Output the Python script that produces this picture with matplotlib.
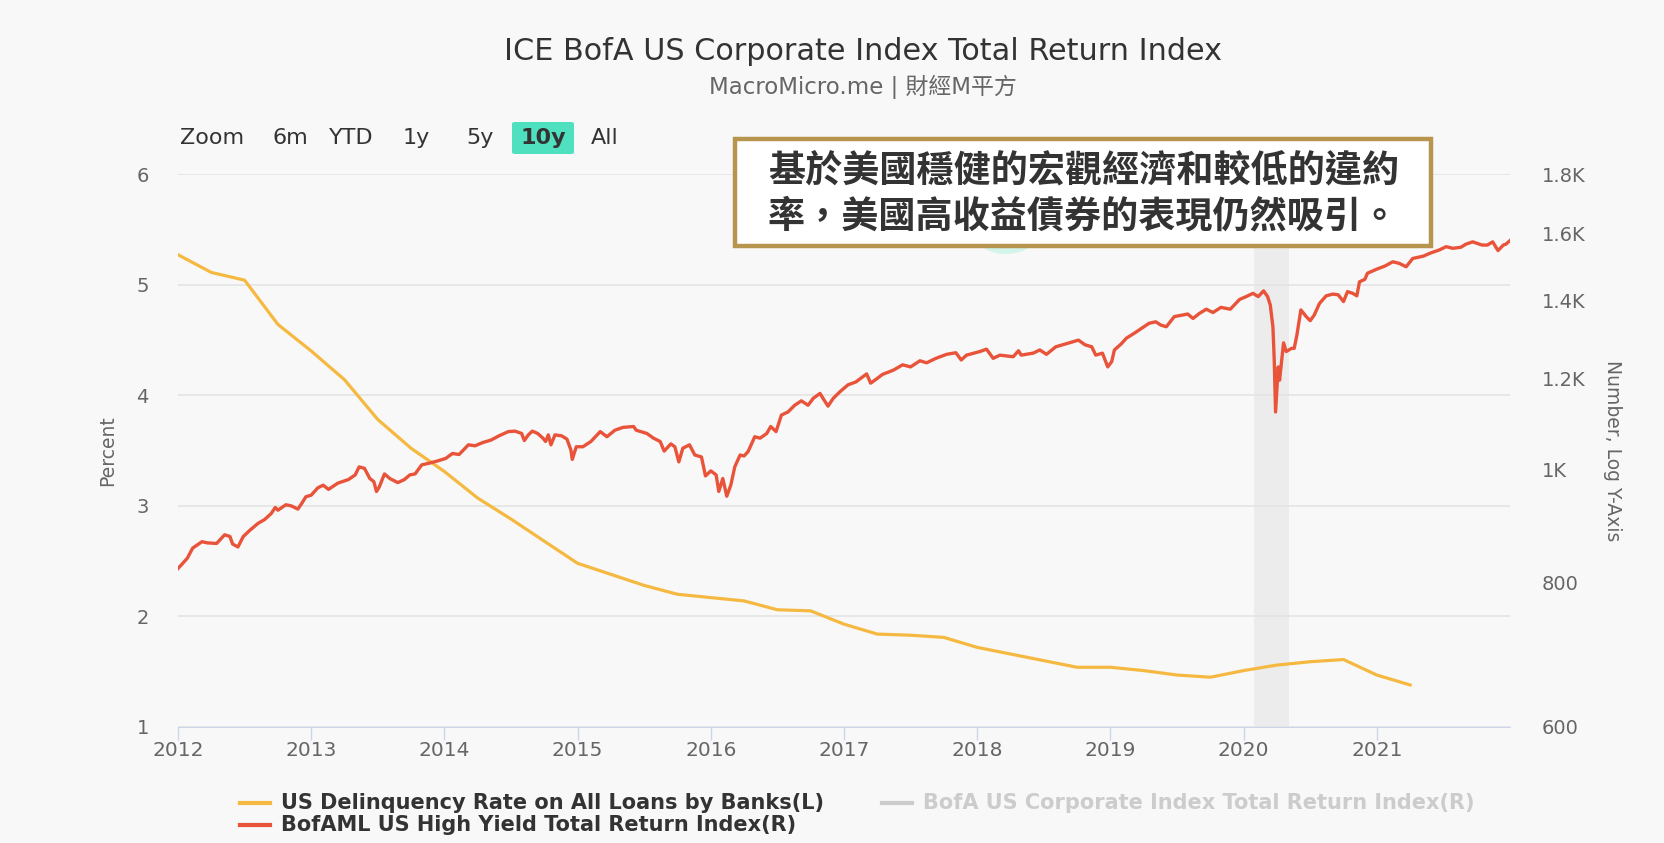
import numpy as np
import matplotlib
matplotlib.use("Agg")
import matplotlib.pyplot as plt
from matplotlib.patches import Rectangle, Ellipse, FancyBboxPatch

plt.rcParams['font.family'] = ['DejaVu Sans', 'Noto Sans CJK TC']

# ==========================================
# DATA
# ==========================================
# US delinquency rate on all loans, quarterly 2012Q1 .. 2021Q2 (percent)
dq_start = 2012.0
dq_rate = [5.27, 5.11, 5.04, 4.64, 4.40, 4.14, 3.78, 3.52, 3.31, 3.07,
           2.88, 2.68, 2.48, 2.38, 2.28, 2.20, 2.17, 2.14, 2.06, 2.05,
           1.93, 1.84, 1.83, 1.81, 1.72, 1.66, 1.60, 1.54, 1.54, 1.51,
           1.47, 1.45, 1.51, 1.56, 1.59, 1.61, 1.47, 1.38]

# BofAML US High Yield total return index (decimal year, level)
hy_t = [2012.00, 2012.07, 2012.11, 2012.18, 2012.22, 2012.29, 2012.35, 2012.39, 2012.41, 2012.45,
        2012.49, 2012.54, 2012.60, 2012.65, 2012.70, 2012.73, 2012.75, 2012.81, 2012.85, 2012.90,
        2012.93, 2012.96, 2013.00, 2013.05, 2013.09, 2013.13, 2013.20, 2013.28, 2013.33, 2013.36,
        2013.40, 2013.44, 2013.47, 2013.49, 2013.51, 2013.55, 2013.59, 2013.65, 2013.70, 2013.74,
        2013.78, 2013.83, 2013.88, 2013.95, 2014.01, 2014.06, 2014.11, 2014.18, 2014.23, 2014.29,
        2014.35, 2014.41, 2014.48, 2014.53, 2014.58, 2014.60, 2014.63, 2014.66, 2014.70, 2014.74,
        2014.76, 2014.78, 2014.80, 2014.83, 2014.88, 2014.92, 2014.95, 2014.96, 2014.99, 2015.04,
        2015.10, 2015.17, 2015.22, 2015.28, 2015.34, 2015.42, 2015.44, 2015.52, 2015.57, 2015.62,
        2015.65, 2015.70, 2015.73, 2015.76, 2015.79, 2015.84, 2015.88, 2015.93, 2015.96, 2016.00,
        2016.04, 2016.06, 2016.09, 2016.12, 2016.15, 2016.18, 2016.22, 2016.25, 2016.28, 2016.33,
        2016.37, 2016.42, 2016.45, 2016.49, 2016.53, 2016.58, 2016.63, 2016.68, 2016.73, 2016.77,
        2016.82, 2016.85, 2016.88, 2016.92, 2016.97, 2017.03, 2017.09, 2017.17, 2017.20, 2017.24,
        2017.29, 2017.37, 2017.44, 2017.50, 2017.57, 2017.62, 2017.69, 2017.77, 2017.84, 2017.88,
        2017.92, 2018.02, 2018.07, 2018.12, 2018.17, 2018.27, 2018.31, 2018.33, 2018.42, 2018.47,
        2018.52, 2018.59, 2018.69, 2018.76, 2018.81, 2018.86, 2018.89, 2018.94, 2018.98, 2019.01,
        2019.03, 2019.08, 2019.12, 2019.18, 2019.24, 2019.29, 2019.34, 2019.38, 2019.42, 2019.48,
        2019.54, 2019.58, 2019.62, 2019.67, 2019.72, 2019.77, 2019.83, 2019.90, 2019.97, 2020.02,
        2020.07, 2020.11, 2020.15, 2020.18, 2020.20, 2020.22, 2020.23, 2020.24, 2020.26, 2020.27,
        2020.30, 2020.32, 2020.36, 2020.38, 2020.40, 2020.43, 2020.47, 2020.50, 2020.53, 2020.57,
        2020.62, 2020.67, 2020.71, 2020.75, 2020.78, 2020.82, 2020.85, 2020.87, 2020.91, 2020.93,
        2021.00, 2021.06, 2021.12, 2021.17, 2021.22, 2021.27, 2021.35, 2021.40, 2021.47, 2021.52,
        2021.57, 2021.63, 2021.67, 2021.72, 2021.79, 2021.83, 2021.87, 2021.91, 2021.95, 2021.97,
        2022.00]
hy_val = [822, 839, 856, 867, 865, 864, 879, 876, 863, 858,
          876, 887, 899, 906, 917, 928, 923, 933, 931, 925,
          936, 948, 951, 965, 970, 962, 974, 981, 990, 1006,
          1003, 983, 977, 958, 966, 992, 983, 975, 981, 990,
          992, 1010, 1013, 1018, 1023, 1033, 1031, 1051, 1049, 1056,
          1061, 1070, 1079, 1080, 1075, 1060, 1072, 1080, 1075, 1065,
          1058, 1072, 1051, 1072, 1070, 1063, 1040, 1021, 1047, 1047,
          1058, 1079, 1068, 1082, 1088, 1090, 1082, 1075, 1065, 1058,
          1038, 1053, 1047, 1016, 1044, 1051, 1030, 1026, 988, 998,
          990, 958, 983, 949, 970, 1006, 1030, 1028, 1037, 1068,
          1065, 1075, 1090, 1079, 1115, 1122, 1137, 1147, 1137, 1153,
          1164, 1149, 1135, 1153, 1168, 1184, 1191, 1210, 1188, 1197,
          1209, 1219, 1232, 1227, 1242, 1237, 1248, 1258, 1262, 1244,
          1256, 1265, 1271, 1248, 1256, 1252, 1267, 1256, 1261, 1269,
          1258, 1277, 1287, 1294, 1282, 1277, 1256, 1261, 1227, 1240,
          1269, 1284, 1299, 1312, 1326, 1338, 1342, 1333, 1329, 1356,
          1360, 1363, 1351, 1365, 1376, 1367, 1381, 1376, 1403, 1411,
          1420, 1411, 1427, 1411, 1388, 1329, 1244, 1122, 1227, 1195,
          1287, 1265, 1273, 1273, 1307, 1374, 1356, 1345, 1360, 1392,
          1413, 1418, 1416, 1397, 1425, 1420, 1413, 1453, 1460, 1478,
          1490, 1499, 1512, 1507, 1497, 1522, 1529, 1538, 1548, 1558,
          1553, 1556, 1566, 1573, 1563, 1563, 1573, 1546, 1563, 1566,
          1577]

# recession shading (Feb - Apr 2020)
rec_start, rec_end = 2020.08, 2020.34

years = list(range(2012, 2022))
left_ticks = [1, 2, 3, 4, 5, 6]
right_ticks = [600, 800, 1000, 1200, 1400, 1600, 1800]
right_labels = ['600', '800', '1K', '1.2K', '1.4K', '1.6K', '1.8K']

title = "ICE BofA US Corporate Index Total Return Index"
subtitle = "MacroMicro.me | 財經M平方"
note_lines = ["基於美國穩健的宏觀經濟和較低的違約", "率，美國高收益債券的表現仍然吸引。"]
zoom_labels = ["Zoom", "6m", "YTD", "1y", "5y", "10y", "All"]
legend_items = [("US Delinquency Rate on All Loans by Banks(L)", '#f5b942', '#333333'),
                ("BofA US Corporate Index Total Return Index(R)", '#cccccc', '#cccccc'),
                ("BofAML US High Yield Total Return Index(R)", '#e9533a', '#333333')]

# ==========================================
# FIGURE
# ==========================================
W, H = 1665, 843
BG = '#f8f8f8'
fig = plt.figure(figsize=(W / 100, H / 100), dpi=100, facecolor=BG)

def fx(px):
    return px / W

def fy(py):
    return 1 - py / H

ax = fig.add_axes([fx(178), fy(727), fx(1510) - fx(178), fy(174) - fy(727)])
ax.set_facecolor(BG)

dq_t = [dq_start + 0.25 * i for i in range(len(dq_rate))]

ax.axvspan(rec_start, rec_end, color='#ececec', zorder=0, lw=0)
ax.plot(dq_t, dq_rate, color='#f5b942', lw=2.3, zorder=3, solid_joinstyle='round')

ax.set_xlim(2012.0, 2022.0)
ax.set_ylim(1, 6)
ax.set_yticks(left_ticks)
ax.set_xticks(years)
ax.set_xticklabels([str(y) for y in years])
ax.grid(axis='y', color='#e3e3e3', lw=1.1)
ax.set_axisbelow(True)
for s in ['top', 'right', 'left']:
    ax.spines[s].set_visible(False)
ax.spines['bottom'].set_color('#ccd6eb')
ax.tick_params(axis='x', colors='#ccd6eb', length=9, width=1, labelcolor='#666666',
               labelsize=14.5, pad=1)
ax.tick_params(axis='y', length=0, labelcolor='#666666', labelsize=14, pad=21)
ax.set_ylabel('Percent', color='#666666', fontsize=13.5, labelpad=14)

ax2 = ax.twinx()
ax2.plot(hy_t, hy_val, color='#e9533a', lw=2.4, zorder=4, solid_joinstyle='round')
ax2.set_yscale('log')
ax2.set_ylim(600, 1800)
ax2.set_yticks(right_ticks)
ax2.set_yticklabels(right_labels)
ax2.minorticks_off()
ax2.yaxis.set_minor_locator(matplotlib.ticker.NullLocator())
for s in ax2.spines.values():
    s.set_visible(False)
ax2.tick_params(axis='y', length=0, labelcolor='#666666', labelsize=14, pad=23)
ax2.set_ylabel('Number, Log Y-Axis', color='#666666', fontsize=13.5, rotation=270,
               labelpad=26)

# titles
fig.text(fx(863), fy(52), title, ha='center', va='center', fontsize=21.8, color='#333333')
fig.text(fx(863), fy(87), subtitle, ha='center', va='center', fontsize=16.5, color='#666666')

# range selector buttons
zoom_x = [212, 290, 351, 416, 480, 543, 605]
fig.patches.append(FancyBboxPatch((fx(512), fy(154)), fx(574) - fx(512), fy(122) - fy(154),
                                  boxstyle='round,pad=0,rounding_size=0.002',
                                  transform=fig.transFigure, facecolor='#4ee0bf',
                                  edgecolor='none', zorder=2))
for lab, x in zip(zoom_labels, zoom_x):
    fig.text(fx(x), fy(138), lab, ha='center', va='center', fontsize=16,
             color='#333333', fontweight='bold' if lab == '10y' else 'normal')

# faint watermark peeking below the note box
fig.patches.append(Ellipse((fx(1006), fy(208)), fx(92), 92 / H, transform=fig.transFigure,
                           facecolor='#d3f4ea', edgecolor='none', zorder=4))

# annotation box
fig.patches.append(Rectangle((fx(735), fy(246)), fx(1431) - fx(735), fy(139) - fy(246),
                             transform=fig.transFigure, facecolor='white',
                             edgecolor='#b8954f', lw=3.2, zorder=5))
for i, line in enumerate(note_lines):
    fig.text(fx(768), fy(172 + 45 * i), line, ha='left', va='center', fontsize=26.7,
             fontweight='bold', color='#333333', family=['Noto Sans CJK TC'], zorder=6)

# legend
leg_pos = [(240, 803), (882, 803), (240, 825)]
for (lab, lc, tc), (x, y) in zip(legend_items, leg_pos):
    fig.lines.append(plt.Line2D([fx(x), fx(x + 30)], [fy(y), fy(y)], transform=fig.transFigure,
                                color=lc, lw=3))
    fig.text(fx(x + 41), fy(y), lab, ha='left', va='center', fontsize=15,
             fontweight='bold', color=tc)

fig.savefig('out.png', dpi=100, facecolor=BG)
